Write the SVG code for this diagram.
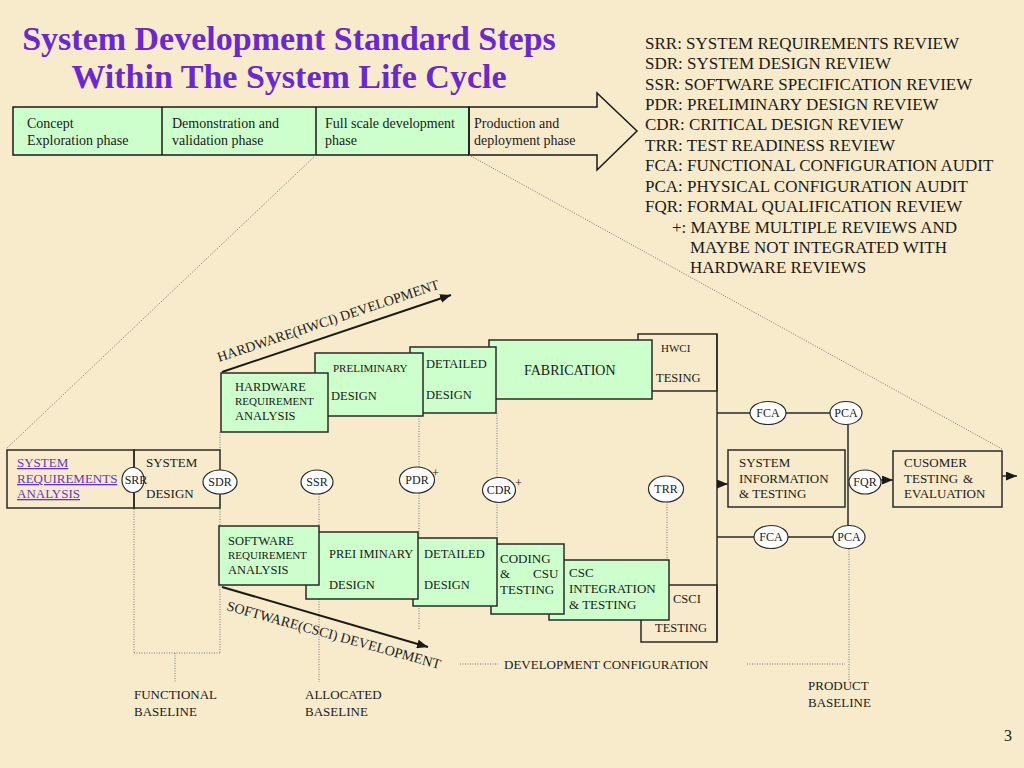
<svg xmlns="http://www.w3.org/2000/svg" width="1024" height="768" viewBox="0 0 1024 768">
<defs>
<style>
text{font-family:"Liberation Serif","Times New Roman",serif;fill:#1a1a1a;font-size:13px}
.s11{font-size:11px}
.s12{font-size:12.5px}
.s14{font-size:14px}
.box{fill:#ccffcc;stroke:#2a2a2a;stroke-width:1.5}
.obox{fill:none;stroke:#2a2a2a;stroke-width:1.5}
.ell{fill:#ffffff;stroke:#2a2a2a;stroke-width:1.2}
.dot{stroke:#777;stroke-width:1;stroke-dasharray:1 1.5;fill:none}
.ln{stroke:#2a2a2a;stroke-width:1.5;fill:none}
.leg{font-size:17px}
.title{font-size:34px;font-weight:bold;fill:#6a28d2}
.link{fill:#6633cc;text-decoration:underline}
.et{font-size:12px;text-anchor:middle}
</style>
<marker id="ah" viewBox="0 0 10 8" refX="10" refY="4" markerWidth="11" markerHeight="9" orient="auto" markerUnits="userSpaceOnUse">
<path d="M0,0 L10,4 L0,8 z" fill="#1a1a1a"/>
</marker>
</defs>
<rect x="0" y="0" width="1024" height="768" fill="#f8ebcb"/>

<g id="title">
<text class="title" x="289" y="50" text-anchor="middle">System Development Standard Steps</text>
<text class="title" x="289" y="88" text-anchor="middle">Within The System Life Cycle</text>
</g>

<g id="phase-bar">
<rect x="13" y="107" width="456" height="48" fill="#ccffcc" stroke="#1a1a1a" stroke-width="1.5"/>
<line x1="162" y1="107" x2="162" y2="155" stroke="#1a1a1a" stroke-width="1.5"/>
<line x1="316" y1="107" x2="316" y2="155" stroke="#1a1a1a" stroke-width="1.5"/>
<polygon points="469,107 597,107 597,93 637,131 597,170 597,155 469,155" fill="none" stroke="#1a1a1a" stroke-width="1.5"/>
<text class="s14" x="27" y="128">Concept</text>
<text class="s14" x="27" y="145">Exploration phase</text>
<text class="s14" x="172" y="128">Demonstration and</text>
<text class="s14" x="172" y="145">validation phase</text>
<text class="s14" x="325" y="128">Full scale development</text>
<text class="s14" x="325" y="145">phase</text>
<text class="s14" x="474" y="128">Production and</text>
<text class="s14" x="474" y="145">deployment phase</text>
</g>

<g id="legend">
<text class="leg" x="645" y="49">SRR: SYSTEM REQUIREMENTS REVIEW</text>
<text class="leg" x="645" y="69">SDR: SYSTEM DESIGN REVIEW</text>
<text class="leg" x="645" y="90">SSR: SOFTWARE SPECIFICATION REVIEW</text>
<text class="leg" x="645" y="110">PDR: PRELIMINARY DESIGN REVIEW</text>
<text class="leg" x="645" y="130">CDR: CRITICAL DESIGN REVIEW</text>
<text class="leg" x="645" y="151">TRR: TEST READINESS REVIEW</text>
<text class="leg" x="645" y="171">FCA: FUNCTIONAL CONFIGURATION AUDIT</text>
<text class="leg" x="645" y="192">PCA: PHYSICAL CONFIGURATION AUDIT</text>
<text class="leg" x="645" y="212">FQR: FORMAL QUALIFICATION REVIEW</text>
<text class="leg" x="672" y="233">+: MAYBE MULTIPLE REVIEWS AND</text>
<text class="leg" x="690" y="253">MAYBE NOT INTEGRATED WITH</text>
<text class="leg" x="690" y="273">HARDWARE REVIEWS</text>
</g>

<g id="connectors">
<line class="dot" x1="316" y1="155" x2="6" y2="449"/>
<line class="dot" x1="469" y1="155" x2="1002" y2="449"/>
<line class="dot" x1="220" y1="432" x2="220" y2="450"/>
<line class="dot" x1="134" y1="494" x2="134" y2="653"/>
<line class="dot" x1="220" y1="494" x2="220" y2="653"/>
<line class="dot" x1="134" y1="653" x2="220" y2="653"/>
<line class="dot" x1="175" y1="653" x2="175" y2="683"/>
<line class="dot" x1="319" y1="494" x2="319" y2="682"/>
<line class="dot" x1="419" y1="416" x2="419" y2="467"/>
<line class="dot" x1="419" y1="493" x2="419" y2="630"/>
<line class="dot" x1="497" y1="413" x2="497" y2="477"/>
<line class="dot" x1="497" y1="502" x2="497" y2="544"/>
<line class="dot" x1="667" y1="502" x2="667" y2="560"/>
<line class="dot" x1="849" y1="549" x2="849" y2="682"/>
<line class="dot" x1="460" y1="664" x2="498" y2="664"/>
<line class="dot" x1="747" y1="664" x2="845" y2="664"/>
<line class="ln" x1="717" y1="334" x2="717" y2="641"/>
<line class="ln" x1="717" y1="413" x2="830" y2="413"/>
<line class="ln" x1="717" y1="537" x2="833" y2="537"/>
<line class="ln" x1="848" y1="425" x2="848" y2="525"/>
<line class="ln" x1="717" y1="484" x2="728" y2="484" marker-end="url(#ah)"/>
<line class="ln" x1="881" y1="480" x2="893" y2="480" marker-end="url(#ah)"/>
<line class="ln" x1="1002" y1="476" x2="1017" y2="476" marker-end="url(#ah)"/>
<line stroke="#1a1a1a" stroke-width="2" x1="222" y1="372" x2="451" y2="295" marker-end="url(#ah)"/>
<line stroke="#1a1a1a" stroke-width="2" x1="222" y1="587" x2="428" y2="647" marker-end="url(#ah)"/>
</g>

<g id="hw-label">
<text class="s14" transform="translate(219,362) rotate(-18.4)">HARDWARE(HWCI) DEVELOPMENT</text>
</g>
<g id="sw-label">
<text class="s14" transform="translate(226,610) rotate(15.5)">SOFTWARE(CSCI) DEVELOPMENT</text>
</g>

<g id="hwci-testing">
<rect class="obox" x="638" y="334" width="79" height="57"/>
<text class="s11" x="661" y="352">HWCI</text>
<text class="s12" x="656" y="382">TESING</text>
</g>
<g id="fabrication">
<rect class="box" x="489" y="340" width="163" height="59"/>
<text class="s14" x="524" y="375">FABRICATION</text>
</g>
<g id="hw-detailed">
<rect class="box" x="410" y="347" width="86" height="66"/>
<text class="s12" x="426" y="368">DETAILED</text>
<text class="s12" x="426" y="399">DESIGN</text>
</g>
<g id="hw-preliminary">
<rect class="box" x="315" y="353" width="108" height="63"/>
<text class="s11" x="333" y="372">PRELIMINARY</text>
<text class="s12" x="331" y="400">DESIGN</text>
</g>
<g id="hw-requirement">
<rect class="box" x="221" y="373" width="107" height="59"/>
<text class="s12" x="235" y="391">HARDWARE</text>
<text class="s11" x="235" y="405">REQUIREMENT</text>
<text class="s12" x="235" y="420">ANALYSIS</text>
</g>

<g id="csci-testing">
<rect class="obox" x="641" y="585" width="76" height="57"/>
<text class="s12" x="673" y="603">CSCI</text>
<text class="s12" x="655" y="632">TESTING</text>
</g>
<g id="csc-integration">
<rect class="box" x="549" y="560" width="120" height="60"/>
<text x="569" y="577">CSC</text>
<text x="569" y="593">INTEGRATION</text>
<text x="569" y="609">&amp; TESTING</text>
</g>
<g id="coding">
<rect class="box" x="491" y="544" width="73" height="70"/>
<text x="500" y="563">CODING</text>
<text x="500" y="578">&amp;</text>
<text x="533" y="578">CSU</text>
<text x="500" y="594">TESTING</text>
</g>
<g id="sw-detailed">
<rect class="box" x="413" y="538" width="84" height="68"/>
<text class="s12" x="424" y="558">DETAILED</text>
<text class="s12" x="424" y="589">DESIGN</text>
</g>
<g id="sw-preliminary">
<rect class="box" x="306" y="532" width="112" height="67"/>
<text class="s12" x="329" y="558">PREI IMINARY</text>
<text class="s12" x="329" y="589">DESIGN</text>
</g>
<g id="sw-requirement">
<rect class="box" x="219" y="526" width="100" height="59"/>
<text class="s12" x="228" y="545">SOFTWARE</text>
<text class="s11" x="228" y="559">REQUIREMENT</text>
<text class="s12" x="228" y="574">ANALYSIS</text>
</g>

<g id="system-requirements">
<rect class="obox" x="7" y="450" width="127" height="58"/>
<text class="link" x="17" y="467">SYSTEM</text>
<text class="link" x="17" y="483">REQUIREMENTS</text>
<text class="link" x="17" y="498">ANALYSIS</text>
</g>
<g id="system-design">
<rect class="obox" x="134" y="450" width="86" height="58"/>
<text x="146" y="467">SYSTEM</text>
<text x="146" y="498">DESIGN</text>
</g>
<g id="system-information">
<rect class="obox" x="728" y="450" width="117" height="57"/>
<text x="739" y="467">SYSTEM</text>
<text x="739" y="483">INFORMATION</text>
<text x="739" y="498">&amp; TESTING</text>
</g>
<g id="customer-testing">
<rect class="obox" x="893" y="451" width="109" height="56"/>
<text x="904" y="467">CUSOMER</text>
<text x="904" y="483">TESTING</text>
<text x="963" y="483">&amp;</text>
<text x="904" y="498">EVALUATION</text>
</g>

<g id="srr"><ellipse class="ell" cx="133" cy="480" rx="11" ry="12.5"/><text class="et" x="136" y="484">SRR</text></g>
<g id="sdr"><ellipse class="ell" cx="220" cy="482" rx="17" ry="12"/><text class="et" x="220" y="486">SDR</text></g>
<g id="ssr"><ellipse class="ell" cx="317" cy="482" rx="16" ry="12"/><text class="et" x="317" y="486">SSR</text></g>
<g id="pdr"><ellipse class="ell" cx="417" cy="480" rx="17.5" ry="13"/><text class="et" x="417" y="484">PDR</text><text class="s12" x="432" y="477">+</text></g>
<g id="cdr"><ellipse class="ell" cx="499" cy="490" rx="16.5" ry="12.5"/><text class="et" x="499" y="494">CDR</text><text class="s12" x="515" y="487">+</text></g>
<g id="trr"><ellipse class="ell" cx="666" cy="489" rx="17.5" ry="13"/><text class="et" x="666" y="493">TRR</text></g>
<g id="fca-hw"><ellipse class="ell" cx="768" cy="413" rx="18" ry="11.5"/><text class="et" x="768" y="417">FCA</text></g>
<g id="pca-hw"><ellipse class="ell" cx="846" cy="413" rx="16" ry="11.5"/><text class="et" x="846" y="417">PCA</text></g>
<g id="fqr"><ellipse class="ell" cx="865" cy="482" rx="16" ry="12"/><text class="et" x="865" y="486">FQR</text></g>
<g id="fca-sw"><ellipse class="ell" cx="771" cy="537" rx="17" ry="11.5"/><text class="et" x="771" y="541">FCA</text></g>
<g id="pca-sw"><ellipse class="ell" cx="849" cy="537" rx="16" ry="11.5"/><text class="et" x="849" y="541">PCA</text></g>

<g id="baselines">
<text x="134" y="699">FUNCTIONAL</text>
<text x="134" y="716">BASELINE</text>
<text x="305" y="699">ALLOCATED</text>
<text x="305" y="716">BASELINE</text>
<text x="808" y="690">PRODUCT</text>
<text x="808" y="707">BASELINE</text>
<text x="504" y="669">DEVELOPMENT CONFIGURATION</text>
</g>
<text x="1004" y="741" style="font-size:16px">3</text>
</svg>
